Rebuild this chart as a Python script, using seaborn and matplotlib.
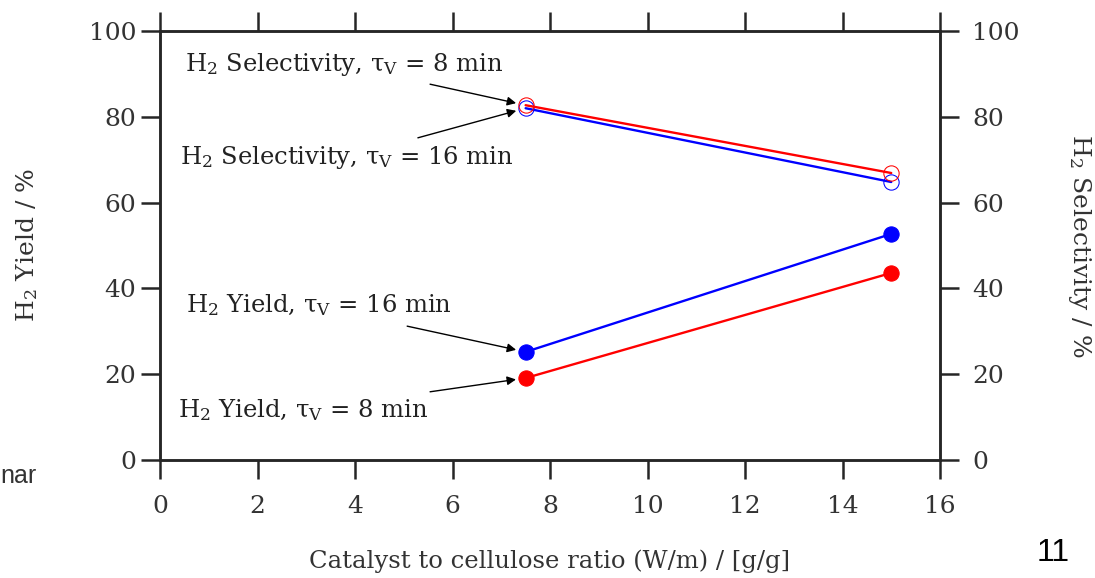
import matplotlib
matplotlib.use("Agg")
import matplotlib.pyplot as plt
import seaborn as sns

# Data
ratio = [7.5, 15.0]
sel_8min = [82.7, 66.9]
sel_16min = [82.0, 64.8]
yield_16min = [25.2, 52.7]
yield_8min = [19.1, 43.6]

sns.set_style("ticks")
plt.rcParams["font.family"] = ["DejaVu Serif"]
plt.rcParams["mathtext.fontset"] = "dejavuserif"

fig = plt.figure(figsize=(10.95, 5.78), dpi=100)
ax = fig.add_axes([160 / 1095, 118 / 578, 780 / 1095, 429 / 578])
ax2 = ax.twinx()

# Yield (left axis), filled markers
sns.lineplot(x=ratio, y=yield_16min, color="blue", marker="o", markersize=11,
             markeredgecolor="blue", linewidth=1.7, ax=ax)
sns.lineplot(x=ratio, y=yield_8min, color="red", marker="o", markersize=11,
             markeredgecolor="red", linewidth=1.7, ax=ax)

# Selectivity (right axis), open markers
sns.lineplot(x=ratio, y=sel_16min, color="blue", marker="o", markersize=11,
             markerfacecolor="none", markeredgecolor="blue", linewidth=1.7, ax=ax2)
sns.lineplot(x=ratio, y=sel_8min, color="red", marker="o", markersize=11,
             markerfacecolor="none", markeredgecolor="red", linewidth=1.7, ax=ax2)

for a in (ax, ax2):
    a.set_xlim(0, 16)
    a.set_ylim(0, 100)
    a.set_yticks(range(0, 101, 20))
    for s in a.spines.values():
        s.set_linewidth(1.8)
        s.set_visible(True)

ax.set_xticks(range(0, 17, 2))
ax.tick_params(axis="both", direction="out", length=14, width=1.8,
               labelsize=18, labelcolor="#333333", top=True)
ax.tick_params(axis="y", pad=3)
ax.tick_params(axis="x", pad=11)
ax2.tick_params(axis="y", direction="out", length=14, width=1.8,
                labelsize=18, labelcolor="#333333", pad=9)

ax.set_xlabel("Catalyst to cellulose ratio (W/m) / [g/g]", fontsize=17.5,
              color="#333333", labelpad=23)
ax.set_ylabel("H$_2$ Yield / %", fontsize=18, color="#333333", labelpad=35)
ax2.set_ylabel("H$_2$ Selectivity / %", fontsize=18, color="#333333",
               rotation=270, labelpad=53)

# Annotations
txt_kw = dict(fontsize=17.5, color="#222222", va="center", ha="left")
arrow_kw = dict(arrowstyle="-|>", color="black", lw=1.0, mutation_scale=13,
                shrinkA=0, shrinkB=7)
ax.text(0.51, 92.1, "H$_2$ Selectivity, τ$_\\mathrm{V}$ = 8 min", **txt_kw)
ax.annotate("", xy=(ratio[0], sel_8min[0]), xytext=(5.54, 87.6),
            arrowprops=arrow_kw)
ax.text(0.41, 70.4, "H$_2$ Selectivity, τ$_\\mathrm{V}$ = 16 min", **txt_kw)
ax.annotate("", xy=(ratio[0], sel_16min[0]), xytext=(5.29, 75.1),
            arrowprops=arrow_kw)
ax.text(0.53, 36.1, "H$_2$ Yield, τ$_\\mathrm{V}$ = 16 min", **txt_kw)
ax.annotate("", xy=(ratio[0], yield_16min[0]), xytext=(5.07, 31.2),
            arrowprops=arrow_kw)
ax.text(0.37, 11.7, "H$_2$ Yield, τ$_\\mathrm{V}$ = 8 min", **txt_kw)
ax.annotate("", xy=(ratio[0], yield_8min[0]), xytext=(5.54, 15.9),
            arrowprops=arrow_kw)

# Slide leftovers
fig.text(0.0, (578 - 476) / 578, "nar", fontsize=18, family="Liberation Sans",
         color="#333333", va="center")
fig.text(1053 / 1095, (578 - 553) / 578, "11", fontsize=23,
         family="Liberation Sans", color="black", va="center", ha="center")

fig.savefig("out.png", dpi=100)
